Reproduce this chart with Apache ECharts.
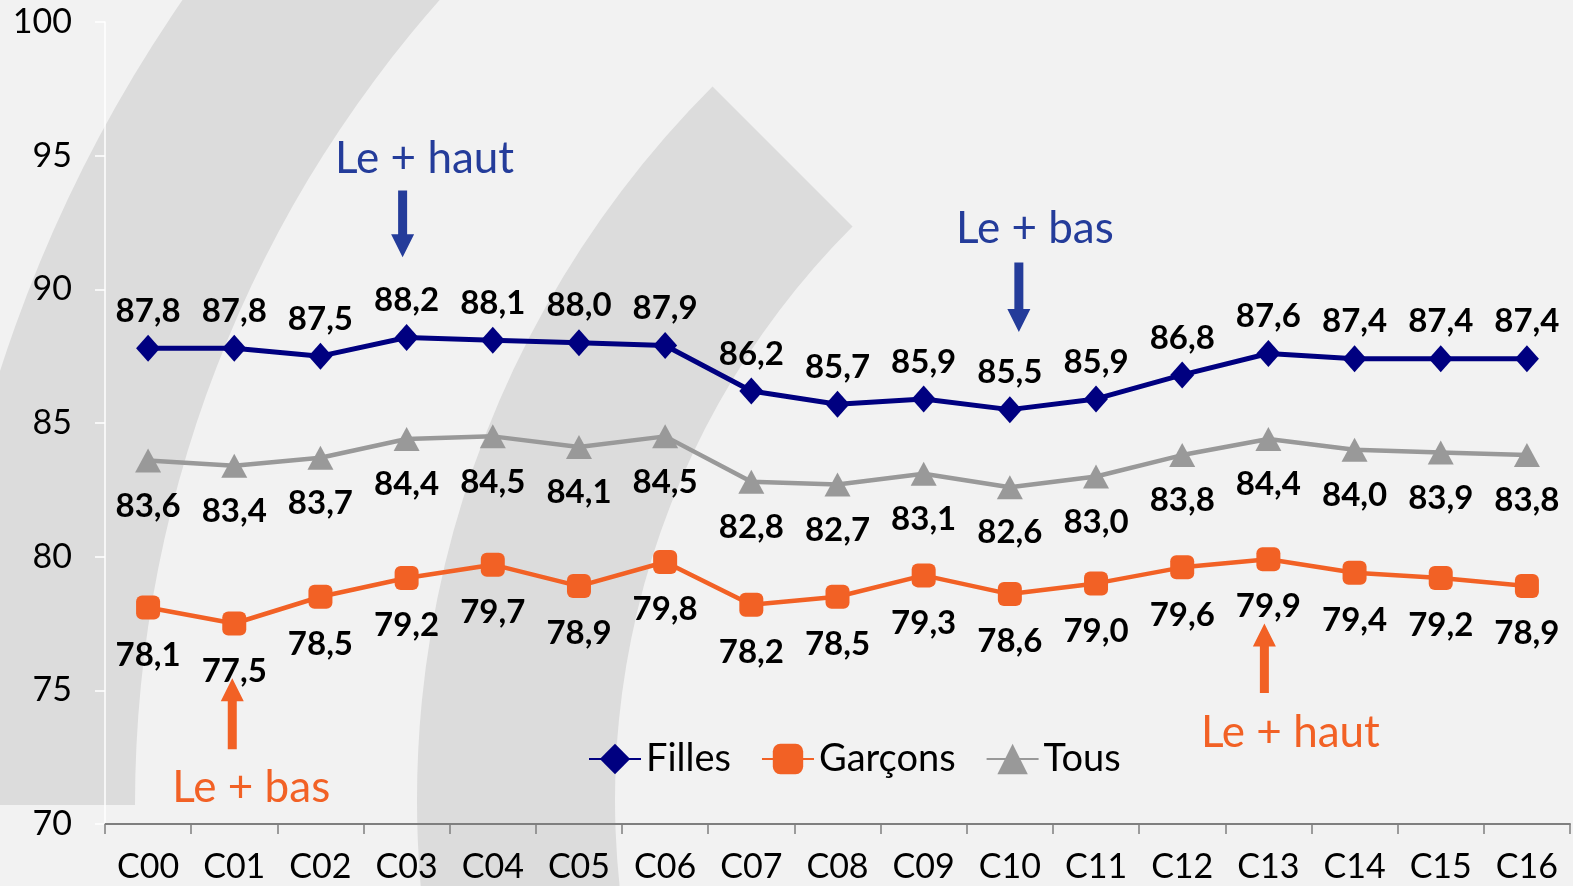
<!DOCTYPE html>
<html>
<head>
<meta charset="utf-8">
<title>Filles / Garçons / Tous</title>
<style>
    html, body {
        margin: 0;
        padding: 0;
        background: #f2f2f2;
    }

    #main {
        width: 1573px;
        height: 886px;
    }
</style>
</head>
<body>
<div id="main"></div>
<script src="https://cdn.jsdelivr.net/npm/echarts@6/dist/echarts.min.js"></script>
<script>

    // données
    var categories = ['C00', 'C01', 'C02', 'C03', 'C04', 'C05', 'C06', 'C07', 'C08',
        'C09', 'C10', 'C11', 'C12', 'C13', 'C14', 'C15', 'C16'];
    var filles = [87.8, 87.8, 87.5, 88.2, 88.1, 88.0, 87.9, 86.2, 85.7, 85.9, 85.5, 85.9, 86.8, 87.6, 87.4, 87.4, 87.4];
    var garcons = [78.1, 77.5, 78.5, 79.2, 79.7, 78.9, 79.8, 78.2, 78.5, 79.3, 78.6, 79.0, 79.6, 79.9, 79.4, 79.2, 78.9];
    var tous = [83.6, 83.4, 83.7, 84.4, 84.5, 84.1, 84.5, 82.8, 82.7, 83.1, 82.6, 83.0, 83.8, 84.4, 84.0, 83.9, 83.8];
    var yMin = 70, yMax = 100, yStep = 5;

    var FONT = 'Lato, "Noto Sans", sans-serif';
    var BLUE = '#243c9a', ORANGE = '#f26125';

    function fr(v) {
        return v.toFixed(1).replace('.', ',');
    }

    var myChart = echarts.init(document.getElementById('main'));

    // fond décoratif (deux arcs gris)
    var decor = [
        {
            type: 'sector', silent: true, z: -1,
            shape: {cx: 1351, cy: 805, r0: 1216, r: 1419, startAngle: Math.PI, endAngle: Math.PI * 1.5, clockwise: true},
            style: {fill: '#dcdcdc'}
        },
        {
            type: 'sector', silent: true, z: -1,
            shape: {cx: 1426, cy: 800, r0: 811, r: 1009, startAngle: Math.PI * 0.9, endAngle: Math.PI * 1.25, clockwise: true},
            style: {fill: '#dcdcdc'}
        }
    ];

    function labelCfg(pos, dist) {
        return {
            show: true,
            position: pos,
            distance: dist,
            color: '#000',
            fontFamily: FONT,
            fontWeight: 'bold',
            fontSize: 33,
            formatter: function (p) { return fr(p.value); }
        };
    }

    option = {
        backgroundColor: '#f2f2f2',
        animation: false,
        textStyle: {fontFamily: FONT},
        grid: {left: 105, right: 3, top: 22, bottom: 62},
        legend: {
            left: 583,
            top: 735,
            itemWidth: 52,
            itemHeight: 38,
            itemGap: 30,
            textStyle: {fontSize: 38, color: '#000', fontFamily: FONT},
            data: ['Filles', 'Garçons', 'Tous']
        },
        xAxis: {
            type: 'category',
            data: categories,
            boundaryGap: true,
            axisLine: {lineStyle: {color: '#7f7f7f', width: 2}},
            axisTick: {show: true, length: 10, lineStyle: {color: '#7f7f7f', width: 1.5}},
            axisLabel: {color: '#000', fontSize: 34, margin: 26, fontFamily: FONT, interval: 0}
        },
        yAxis: {
            type: 'value',
            min: yMin,
            max: yMax,
            interval: yStep,
            axisLine: {show: true, lineStyle: {color: '#ffffff', width: 1.5}},
            axisTick: {show: true, length: 10, lineStyle: {color: '#ffffff', width: 1.5}},
            axisLabel: {color: '#000', fontSize: 34, margin: 33, fontFamily: FONT},
            splitLine: {show: false}
        },
        series: [
            {
                name: 'Filles', type: 'line', data: filles,
                symbol: 'diamond', symbolSize: [24, 27],
                lineStyle: {color: '#000080', width: 5},
                itemStyle: {color: '#000080'},
                label: labelCfg('top', 7),
                z: 4
            },
            {
                name: 'Garçons', type: 'line', data: garcons,
                symbol: 'roundRect', symbolSize: 24,
                lineStyle: {color: ORANGE, width: 4.5},
                itemStyle: {color: ORANGE},
                label: labelCfg('bottom', 19),
                z: 3
            },
            {
                name: 'Tous', type: 'line', data: tous,
                symbol: 'triangle', symbolSize: [26, 24],
                lineStyle: {color: '#999999', width: 4.5},
                itemStyle: {color: '#999999'},
                label: labelCfg('bottom', 17),
                z: 2
            }
        ],
        graphic: decor
    };

    myChart.setOption(option);

    // annotations "Le + haut" / "Le + bas" ancrées sur les axes
    var notes = [
        {text: 'Le + haut', color: BLUE, cat: 3, textDx: 18, arrowDx: -4, textVal: 94.9, tail: 93.7, tip: 91.2},
        {text: 'Le + bas', color: BLUE, cat: 10, textDx: 25, arrowDx: 9, textVal: 92.25, tail: 91.0, tip: 88.4},
        {text: 'Le + bas', color: ORANGE, cat: 1, textDx: 17, arrowDx: -2, textVal: 71.35, tail: 72.8, tip: 75.45},
        {text: 'Le + haut', color: ORANGE, cat: 13, textDx: 22, arrowDx: -4, textVal: 73.4, tail: 74.9, tip: 77.5}
    ];

    function arrow(x, yTail, yTip, color) {
        var dir = yTip > yTail ? 1 : -1;
        var base = yTip - dir * 23;
        return {
            type: 'polygon', silent: true, z: 10,
            shape: {
                points: [[x, yTip], [x + 11.5, base], [x + 4.5, base], [x + 4.5, yTail],
                    [x - 4.5, yTail], [x - 4.5, base], [x - 11.5, base]]
            },
            style: {fill: color}
        };
    }

    var extra = [];
    notes.forEach(function (n) {
        var pText = myChart.convertToPixel({xAxisIndex: 0, yAxisIndex: 0}, [n.cat, n.textVal]);
        var pTail = myChart.convertToPixel({xAxisIndex: 0, yAxisIndex: 0}, [n.cat, n.tail]);
        var pTip = myChart.convertToPixel({xAxisIndex: 0, yAxisIndex: 0}, [n.cat, n.tip]);
        extra.push({
            type: 'text', silent: true, z: 10,
            x: pText[0] + n.textDx, y: pText[1],
            style: {
                text: n.text, fill: n.color, font: '44px ' + FONT,
                align: 'center', verticalAlign: 'middle'
            }
        });
        extra.push(arrow(pTail[0] + n.arrowDx, pTail[1], pTip[1], n.color));
    });

    myChart.setOption({graphic: decor.concat(extra)});

</script>
</body>
</html>
